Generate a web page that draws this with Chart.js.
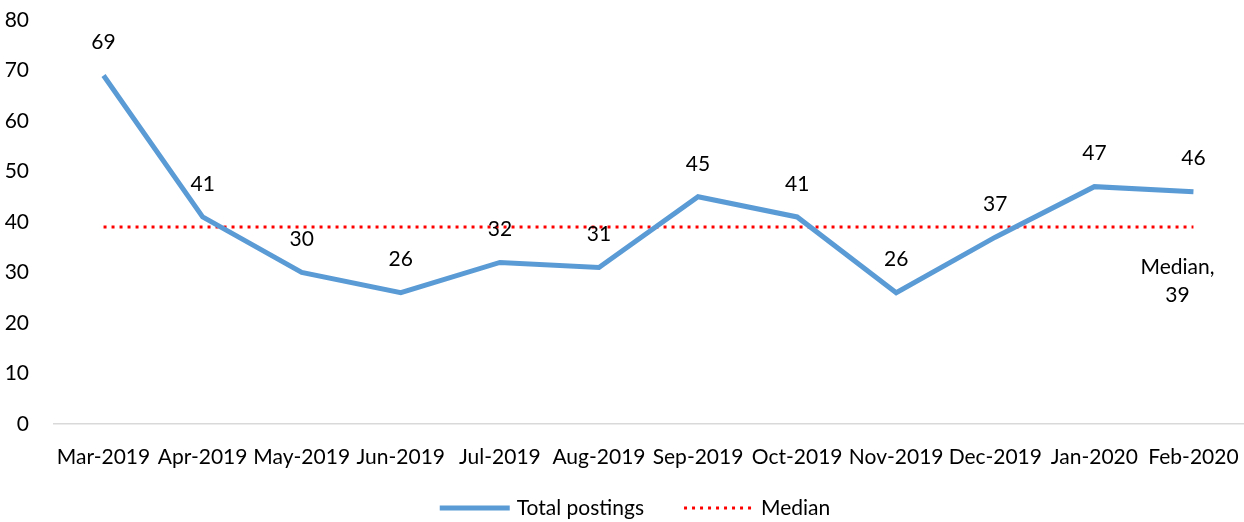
<!DOCTYPE html>
<html>
<head>
<meta charset="utf-8">
<script src="https://cdn.jsdelivr.net/npm/chart.js@4/dist/chart.umd.min.js"></script>
<style>
  html, body { margin: 0; padding: 0; background: #fff; }
  #wrap { width: 1244px; height: 522px; }
</style>
</head>
<body>
<div id="wrap"><canvas id="postings"></canvas></div>
<script>
const months = ['Mar-2019', 'Apr-2019', 'May-2019', 'Jun-2019', 'Jul-2019', 'Aug-2019',
                'Sep-2019', 'Oct-2019', 'Nov-2019', 'Dec-2019', 'Jan-2020', 'Feb-2020'];
const totalPostings = [69, 41, 30, 26, 32, 31, 45, 41, 26, 37, 47, 46];
const medianValue = 39;
const medianLine = months.map(() => medianValue);
const yTicks = [0, 10, 20, 30, 40, 50, 60, 70, 80];

const FONT = 'Lato, Calibri, Carlito, sans-serif';
const FS = 21;

// etiquetas de valores encima de cada punto + rótulo de la mediana
const valueLabels = {
    id: 'valueLabels',
    afterDatasetsDraw(chart) {
        const ctx = chart.ctx;
        ctx.save();
        ctx.fillStyle = '#000';
        ctx.font = FS + 'px ' + FONT;
        ctx.textAlign = 'center';
        ctx.textBaseline = 'middle';
        const meta = chart.getDatasetMeta(0);
        meta.data.forEach((pt, i) => {
            ctx.fillText(String(totalPostings[i]), pt.x, pt.y - 33);
        });
        const medMeta = chart.getDatasetMeta(1);
        const last = medMeta.data[medMeta.data.length - 1];
        ctx.fillText('Median,', last.x - 16, last.y + 40);
        ctx.fillText(String(medianValue), last.x - 16, last.y + 68);
        ctx.restore();
    }
};

// leyenda inferior dibujada a mano (línea de muestra + texto)
const bottomLegend = {
    id: 'bottomLegend',
    afterDraw(chart) {
        const ctx = chart.ctx;
        const y = chart.height - 14;
        const lineLen = 70, textGap = 7, itemGap = 40;
        ctx.save();
        ctx.font = FS + 'px ' + FONT;
        ctx.textBaseline = 'middle';
        const items = chart.data.datasets.map(ds => ({
            ds, w: ctx.measureText(ds.label).width
        }));
        let total = 0;
        items.forEach((it, i) => {
            total += lineLen + textGap + it.w + (i < items.length - 1 ? itemGap : 0);
        });
        let x = chart.width / 2 + 13 - total / 2;
        items.forEach(it => {
            ctx.beginPath();
            ctx.strokeStyle = it.ds.borderColor;
            ctx.lineWidth = it.ds.borderWidth;
            ctx.setLineDash(it.ds.borderDash || []);
            ctx.moveTo(x, y);
            ctx.lineTo(x + lineLen, y);
            ctx.stroke();
            ctx.setLineDash([]);
            ctx.fillStyle = '#000';
            ctx.fillText(it.ds.label, x + lineLen + textGap, y);
            x += lineLen + textGap + it.w + itemGap;
        });
        ctx.restore();
    }
};

new Chart(document.getElementById('postings'), {
    type: 'line',
    data: {
        labels: months,
        datasets: [{
            label: 'Total postings',
            data: totalPostings,
            borderColor: '#5B9BD5',
            backgroundColor: '#5B9BD5',
            borderWidth: 5,
            pointRadius: 0,
            tension: 0
        }, {
            label: 'Median',
            data: medianLine,
            borderColor: '#FF0000',
            backgroundColor: '#FF0000',
            borderWidth: 3,
            borderDash: [3, 5],
            borderCapStyle: 'butt',
            pointRadius: 0
        }]
    },
    options: {
        responsive: true,
        maintainAspectRatio: false,
        animation: false,
        layout: { padding: { top: 20, right: 1, left: 0, bottom: 40 } },
        plugins: {
            tooltip: { enabled: false },
            legend: { display: false }
        },
        scales: {
            x: {
                offset: true,
                grid: { display: false },
                border: { display: true, color: '#D9D9D9', width: 1.5 },
                afterFit(scale) {
                    scale.height = 58;
                    scale.paddingLeft = 0;
                    scale.paddingRight = 0;
                },
                ticks: {
                    color: '#000',
                    font: { family: FONT, size: FS },
                    maxRotation: 0,
                    autoSkip: false,
                    padding: 13
                }
            },
            y: {
                min: 0,
                max: 80,
                afterBuildTicks(scale) {
                    scale.ticks = yTicks.map(v => ({ value: v }));
                },
                afterFit(scale) {
                    scale.width = 54;
                    scale.paddingTop = 0;
                    scale.paddingBottom = 0;
                },
                grid: { display: false },
                border: { display: false },
                ticks: {
                    color: '#000',
                    font: { family: FONT, size: FS },
                    padding: 17
                }
            }
        }
    },
    plugins: [valueLabels, bottomLegend]
});
</script>
</body>
</html>
